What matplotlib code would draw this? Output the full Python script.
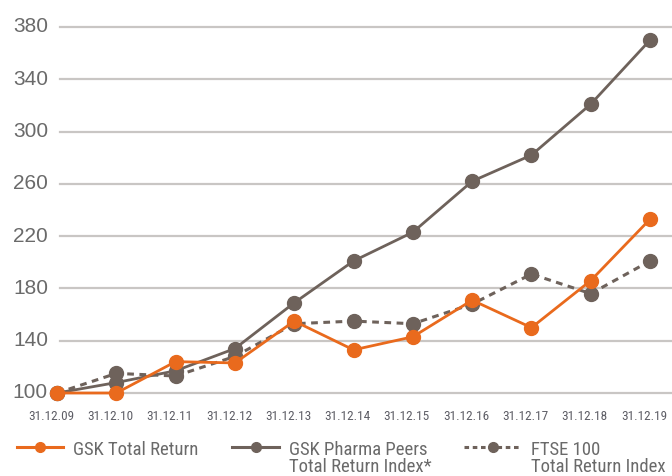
import matplotlib
matplotlib.use("Agg")
import matplotlib.pyplot as plt
import matplotlib.transforms as mtransforms
from matplotlib.lines import Line2D

# Year-end dates and total return index values (rebased to 100 at 31.12.09)
dates = ["31.12.09", "31.12.10", "31.12.11", "31.12.12", "31.12.13", "31.12.14",
         "31.12.15", "31.12.16", "31.12.17", "31.12.18", "31.12.19"]
gsk_total_return = [100, 100, 124, 123, 155, 133, 143, 171, 150, 186, 233]
pharma_peers = [100, 108, 117, 134, 169, 201, 223, 262, 282, 321, 370]
ftse_100 = [100, 115, 113, 128, 153, 155, 153, 168, 191, 176, 201]
y_ticks = [100, 140, 180, 220, 260, 300, 340, 380]

ORANGE = "#E96A1D"
BROWN = "#6E625B"
GRID = "#C9C6C4"
TEXT = "#6A6A6A"

narrow = ["Liberation Sans Narrow", "Roboto Condensed", "DejaVu Sans"]
regular = ["Liberation Sans", "DejaVu Sans"]

W, H = 672, 476
fig = plt.figure(figsize=(W / 100, H / 100), dpi=100)
fig.patch.set_facecolor("white")

ax = fig.add_axes([60 / W, 83 / H, (W - 60) / W, (449 - 83) / H])
ax.set_facecolor("white")
x = list(range(len(dates)))

ax.set_xlim(0.05, 10.37)
ax.set_ylim(100, 380)

for v in y_ticks:
    ax.axhline(v, color=GRID, lw=1.6, zorder=0, clip_on=False)

common = dict(markersize=10, clip_on=False)
ax.plot(x, ftse_100, color=BROWN, lw=2.2, ls=(0, (2.2, 1.8)), marker="o",
        zorder=3, **common)
ax.plot(x, pharma_peers, color=BROWN, lw=2.0, marker="o", zorder=4, **common)
ax.plot(x, gsk_total_return, color=ORANGE, lw=2.0, marker="o", zorder=5, **common)

for s in ax.spines.values():
    s.set_visible(False)
ax.set_xticks([])
ax.set_yticks([])

# y-axis labels, right-aligned left of the grid
ylab_tr = mtransforms.blended_transform_factory(fig.transFigure, ax.transData)
for v in y_ticks:
    ax.text(48 / W, v, str(v), transform=ylab_tr, ha="right", va="center",
            fontsize=15, color=TEXT, family=regular)

# x-axis date labels
xlab_tr = mtransforms.blended_transform_factory(ax.transData, fig.transFigure)
shift = mtransforms.ScaledTranslation(-6 / 100, 0, fig.dpi_scale_trans)
for xi, d in zip(x, dates):
    ax.text(xi, 60 / H, d, transform=xlab_tr + shift, ha="center", va="center",
            fontsize=9.5, color="#5E5E66", family=narrow)

# Legend drawn along the bottom edge
def legend_item(x0, x1, color, ls, lines):
    fig.add_artist(Line2D([x0 / W, x1 / W], [29 / H, 29 / H], color=color, lw=2.2,
                          ls=ls, transform=fig.transFigure))
    fig.add_artist(Line2D([(x0 + x1) / 2 / W], [29 / H], color=color, marker="o",
                          markersize=7, ls="none", transform=fig.transFigure))
    for i, t in enumerate(lines):
        fig.text((x1 + 10) / W, (21 - 17.5 * i) / H, t, ha="left", va="baseline",
                 fontsize=13.5, color=TEXT, family=narrow)

legend_item(17, 63, ORANGE, "-", ["GSK Total Return"])
legend_item(232, 279, BROWN, "-", ["GSK Pharma Peers", "Total Return Index*"])
legend_item(464, 521, BROWN, (0, (1.5, 1.2)), ["FTSE 100", "Total Return Index"])

fig.savefig("out.png", dpi=100, facecolor="white")
